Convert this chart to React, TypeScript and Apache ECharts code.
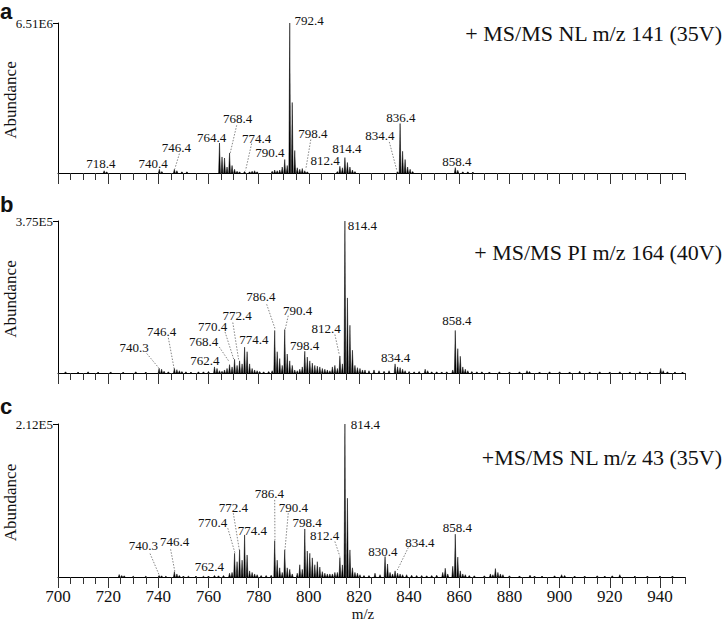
import React, { useEffect, useRef } from "react";
import * as echarts from "echarts";

// ---------- data ----------
const X_MIN = 700;
const X_MAX = 950;
const xTickLabels = [700, 720, 740, 760, 780, 800, 820, 840, 860, 880, 900, 920, 940];
const yMaxLabels = ["6.51E6", "3.75E5", "2.12E5"];
const panelLetters = ["a", "b", "c"];
const panelTitles = [
  "+ MS/MS NL m/z 141 (35V)",
  "+ MS/MS PI m/z 164 (40V)",
  "+MS/MS NL m/z 43 (35V)",
];

// [m/z, relative abundance %]
const peaksA: [number, number][] = [
  [718.4, 1.5], [719.4, 0.8],
  [740.4, 2.5], [741.4, 1],
  [746.4, 2.5], [747.4, 1.5], [749.4, 0.8], [751.4, 0.8],
  [764.4, 20], [765.4, 10.7], [766.4, 10], [767.4, 4], [768.4, 13.3], [769.4, 5], [770.4, 2.5],
  [771.4, 1.2], [772.4, 0.8], [774.4, 1], [776.4, 0.8], [777.4, 1.2], [778.4, 1.5], [779.4, 0.8],
  [785.4, 1.2], [786.4, 2], [787.4, 1.5], [788.4, 2], [789.4, 4], [790.4, 9], [791.4, 5],
  [792.4, 100], [793.4, 47], [794.4, 15], [795.4, 3.5], [796.4, 2.5], [797.4, 3], [798.4, 1.5], [799.4, 0.8],
  [811.4, 1], [812.4, 4.5], [813.4, 3.5], [814.4, 10.3], [815.4, 7], [816.4, 4], [817.4, 2], [818.4, 1],
  [835.4, 0.8], [836.4, 33], [837.4, 14.5], [838.4, 9], [839.4, 4], [840.4, 2.5], [841.4, 1],
  [858.4, 3.6], [859.4, 1.8], [861.4, 0.8], [863.4, 0.8], [865.4, 0.6],
];

const peaksB: [number, number][] = [
  [703, 0.8], [708, 0.6], [712, 0.8], [716, 0.6], [721, 0.7], [726, 0.6], [731, 0.8], [735, 0.6],
  [740.3, 3], [741.3, 2.5], [742.3, 1.2], [744, 0.8],
  [746.4, 3], [747.4, 2.2], [748.4, 1.5], [749.4, 1], [751, 0.8], [753, 0.6], [756, 0.8], [758, 0.8], [760, 1],
  [762.4, 4], [763.4, 3], [764.4, 1.5], [765.4, 1.2], [766.4, 2], [767.4, 3],
  [768.4, 5.5], [769.4, 4], [770.4, 9], [771.4, 5], [772.4, 8], [773.4, 6], [774.4, 17], [775.4, 14],
  [776.4, 6], [777.4, 3], [778.4, 2], [779.4, 1.5], [780.4, 1], [782, 0.8], [784, 1], [785.4, 1.5],
  [786.4, 28], [787.4, 14], [788.4, 9.5], [789.4, 5], [790.4, 28.6], [791.4, 12.5], [792.4, 8], [793.4, 5],
  [794.4, 2], [795.4, 1.5], [796.4, 2.5], [797.4, 4], [798.4, 14.3], [799.4, 10.5], [800.4, 8], [801.4, 6.5],
  [802.4, 5], [803.4, 4.5], [804.4, 4], [805.4, 3], [806.4, 2.5], [807.4, 2], [808.4, 1.5], [809.4, 4],
  [810.4, 5], [811.4, 3], [812.4, 11.2], [813.4, 6], [814.4, 100], [815.4, 49.4], [816.4, 31.4], [817.4, 15],
  [818.4, 5], [819.4, 3.5], [820.4, 3], [821.4, 2], [822.4, 2], [824, 1.5], [826, 2], [828, 1.5], [830, 1.2], [832, 1.5],
  [834.4, 6], [835.4, 4], [836.4, 3.5], [837.4, 2.5], [838.4, 1.5], [840, 1], [842, 0.8], [844, 1],
  [846.4, 2.5], [847.4, 1.5], [849, 0.8], [851, 0.8], [853, 0.7], [855, 0.8],
  [857.4, 2], [858.4, 28], [859.4, 16], [860.4, 11], [861.4, 4], [862.4, 2.5], [863.4, 1.5], [865, 1],
  [867, 0.8], [869, 0.8], [872, 0.7], [876, 0.8], [880, 0.7], [884, 0.8], [887, 1.5], [888, 1],
  [892, 0.7], [896, 0.8], [900, 0.8], [904, 0.7], [908, 1.2], [912, 0.7], [916, 0.8], [920, 0.7],
  [924, 0.8], [928, 0.7], [932, 0.8], [936, 0.7], [940.3, 3], [941.3, 1.5], [943, 0.8], [946, 0.7], [949, 0.6],
];

const peaksC: [number, number][] = [
  [724.4, 1.6], [725.4, 1], [726.4, 0.8], [730, 0.5], [735, 0.5], [740.3, 1], [741.3, 0.8], [743, 0.5],
  [746.4, 3.5], [747.4, 2], [748.4, 1], [750, 0.6], [752, 0.5], [755, 0.6], [758, 0.5], [760, 0.6],
  [762.4, 1], [764, 0.8], [766, 1], [768.4, 2.5], [769.4, 3], [770.4, 15.5], [771.4, 10], [772.4, 17.7],
  [773.4, 11], [774.4, 27.5], [775.4, 14.4], [776.4, 4], [777.4, 3], [778.4, 2], [779.4, 1.5], [781, 1],
  [783, 1], [785, 1.2], [786.4, 23.8], [787.4, 11], [788.4, 6], [789.4, 3], [790.4, 17.7], [791.4, 6],
  [792.4, 5], [793.4, 2], [795.4, 2.5], [796.4, 8], [797.4, 5], [798.4, 31.4], [799.4, 17], [800.4, 15.5],
  [801.4, 12.5], [802.4, 8], [803.4, 10], [804.4, 6.5], [805.4, 3.5], [806.4, 2.5], [807.4, 2], [808.4, 2],
  [809.4, 2], [810.4, 3], [811.4, 3], [812.4, 12.7], [813.4, 7.9], [814.4, 100], [815.4, 51.5], [816.4, 17.7],
  [817.4, 6], [818.4, 3], [819.4, 2.5], [820.4, 1.5], [822, 1], [824, 1], [826.4, 2.5], [828.4, 1.5],
  [830.4, 13.4], [831.4, 8.5], [832.4, 3], [833.4, 2], [834.4, 4], [835.4, 2.5], [836.4, 2], [837.4, 1.5],
  [839, 1.5], [841, 1.2], [843, 1], [845, 1], [847, 0.8], [849, 1], [851, 1.2], [853.4, 3], [854.4, 5.7],
  [855.4, 2], [857.4, 7], [858.4, 28], [859.4, 13], [860.4, 4], [861.4, 2], [862.4, 1.5], [864, 1],
  [866, 0.8], [870, 0.8], [872.4, 2], [873.4, 1.5], [874.4, 5.5], [875.4, 3], [876.4, 2], [877.4, 1.5],
  [880, 0.8], [884, 0.7], [888.2, 1.2], [890, 0.6], [893, 0.6], [898, 0.8], [900.8, 1.5], [902, 1],
  [906, 0.6], [910, 0.6], [915, 0.8], [918, 0.6], [921, 0.8], [924, 1.5], [930, 0.6], [935, 0.6],
  [940, 0.6], [945, 0.6],
];

// annotation: text, label centre (m/z, %), optional leader line (m/z1, %1, m/z2, %2)
type Ann = { t: string; lx: number; ly: number; line?: [number, number, number, number] };

const annA: Ann[] = [
  { t: "718.4", lx: 717.1, ly: 6.3 },
  { t: "740.4", lx: 737.9, ly: 6.3 },
  { t: "746.4", lx: 747.2, ly: 17.3, line: [748.4, 12.9, 746.6, 2.9] },
  { t: "764.4", lx: 761.3, ly: 23.6 },
  { t: "768.4", lx: 771.6, ly: 36.3, line: [771.25, 31.8, 768.6, 12.9] },
  { t: "774.4", lx: 779.2, ly: 23.3, line: [777.2, 19.6, 774.8, 1.8] },
  { t: "790.4", lx: 784.5, ly: 14 },
  { t: "792.4", lx: 800.1, ly: 101.8 },
  { t: "798.4", lx: 801.6, ly: 26.3, line: [800.8, 22.3, 798.8, 2.5] },
  { t: "812.4", lx: 806.5, ly: 8.5 },
  { t: "814.4", lx: 815.2, ly: 16.2 },
  { t: "834.4", lx: 828.3, ly: 24.7, line: [832.1, 20.7, 835.2, 1.1] },
  { t: "836.4", lx: 836.7, ly: 37.3 },
  { t: "858.4", lx: 859.0, ly: 8 },
];

const annB: Ann[] = [
  { t: "740.3", lx: 730.4, ly: 17.1, line: [735.4, 12.8, 740.4, 2.9] },
  { t: "746.4", lx: 741.3, ly: 27.0, line: [744.0, 23.1, 746.3, 2.9] },
  { t: "762.4", lx: 758.6, ly: 8.4 },
  { t: "768.4", lx: 758.1, ly: 20.4, line: [764.3, 17.1, 768.3, 7.3] },
  { t: "770.4", lx: 761.7, ly: 30.8, line: [766.6, 27.0, 770.2, 8.4] },
  { t: "772.4", lx: 771.4, ly: 37.8, line: [769.7, 33.2, 772.0, 9.0] },
  { t: "774.4", lx: 778.1, ly: 22.3 },
  { t: "786.4", lx: 780.9, ly: 50.1, line: [783.2, 45.2, 786.5, 29.3] },
  { t: "790.4", lx: 795.5, ly: 41.4, line: [791.8, 37.7, 790.5, 28.1] },
  { t: "798.4", lx: 798.3, ly: 17.8 },
  { t: "812.4", lx: 806.9, ly: 29.3, line: [810.4, 25.3, 812.2, 11.7] },
  { t: "814.4", lx: 821.4, ly: 97.2 },
  { t: "834.4", lx: 834.6, ly: 10.5 },
  { t: "858.4", lx: 859.0, ly: 34.7 },
];

const annC: Ann[] = [
  { t: "740.3", lx: 734.0, ly: 20.3, line: [736.7, 15.3, 740.4, 1.1] },
  { t: "746.4", lx: 746.5, ly: 23.2, line: [744.9, 18.1, 746.6, 3.5] },
  { t: "762.4", lx: 760.4, ly: 6.8 },
  { t: "770.4", lx: 761.7, ly: 35.6, line: [767.7, 31.9, 770.6, 15.5] },
  { t: "772.4", lx: 769.9, ly: 45.4, line: [769.9, 41.7, 772.3, 17.7] },
  { t: "774.4", lx: 777.5, ly: 30.4 },
  { t: "786.4", lx: 784.3, ly: 54.8, line: [786.4, 50.4, 786.5, 24.2] },
  { t: "790.4", lx: 793.8, ly: 45.4, line: [791.8, 41.7, 790.5, 17.7] },
  { t: "798.4", lx: 799.3, ly: 35.6 },
  { t: "812.4", lx: 806.3, ly: 27.1, line: [810.4, 23.2, 812.4, 13.4] },
  { t: "814.4", lx: 822.6, ly: 99.6 },
  { t: "830.4", lx: 829.5, ly: 16.6 },
  { t: "834.4", lx: 844.3, ly: 22.7, line: [839.7, 19.3, 835.3, 4.6] },
  { t: "858.4", lx: 859.2, ly: 32.4 },
];

// ---------- layout ----------
const SERIF = "Liberation Serif";
const SANS = "Liberation Sans";
const grids = [
  { left: 58, width: 627, top: 23, height: 150 },
  { left: 58, width: 627, top: 221, height: 152 },
  { left: 58, width: 627, top: 424, height: 153 },
];
const titleY = [33, 252, 457];
const letterY = [11, 204, 406];
const peakHalfWidth = 0.35;

const panelPeaks = [peaksA, peaksB, peaksC];
const panelAnn = [annA, annB, annC];

export default function App() {
  const ref = useRef<HTMLDivElement>(null);

  useEffect(() => {
    if (!ref.current) return;
    const chart = echarts.init(ref.current, undefined, { renderer: "svg" });

    const xAxes: any[] = [];
    const yAxes: any[] = [];
    const series: any[] = [];

    grids.forEach((g, i) => {
      const isLast = i === grids.length - 1;
      xAxes.push({
        type: "value",
        gridIndex: i,
        position: "bottom",
        min: X_MIN,
        max: X_MAX,
        interval: 5,
        axisLine: { show: true, onZero: false, lineStyle: { color: "#000", width: 1 } },
        axisTick: { show: true, length: 7, lineStyle: { color: "#333", width: 1 } },
        axisLabel: { show: false },
        splitLine: { show: false },
      });
      xAxes.push({
        type: "value",
        gridIndex: i,
        position: "bottom",
        min: X_MIN,
        max: X_MAX,
        axisLine: { show: false },
        axisTick: {
          show: true,
          length: 11,
          customValues: xTickLabels,
          lineStyle: { color: "#333", width: 1 },
        },
        axisLabel: {
          show: isLast,
          customValues: xTickLabels,
          margin: 11,
          fontSize: 17,
          fontFamily: SERIF,
          color: "#111",
        },
        splitLine: { show: false },
      });
      yAxes.push({
        type: "value",
        gridIndex: i,
        min: 0,
        max: 100,
        axisLine: { show: true, lineStyle: { color: "#000", width: 1 } },
        axisTick: { show: true, length: 5, customValues: [100], lineStyle: { color: "#000" } },
        axisLabel: {
          show: true,
          customValues: [100],
          formatter: () => yMaxLabels[i],
          fontSize: 13,
          fontFamily: SERIF,
          color: "#111",
          margin: 5,
        },
        splitLine: { show: false },
      });
      series.push({
        type: "custom",
        xAxisIndex: 2 * i,
        yAxisIndex: i,
        data: panelPeaks[i],
        encode: { x: 0, y: 1 },
        renderItem: (_p: any, api: any) => {
          const x = api.value(0);
          const h = api.value(1);
          const p0 = api.coord([x - peakHalfWidth, 0]);
          const p1 = api.coord([x, h]);
          const p2 = api.coord([x + peakHalfWidth, 0]);
          return {
            type: "polygon",
            shape: { points: [p0, p1, p2] },
            style: { fill: "#000", stroke: "#000", lineWidth: 0.5 },
          };
        },
      });
    });

    chart.setOption({
      animation: false,
      backgroundColor: "#fff",
      textStyle: { fontFamily: SERIF },
      grid: grids.map((g) => ({ ...g, containLabel: false })),
      xAxis: xAxes,
      yAxis: yAxes,
      series,
    });

    const els: any[] = [];
    const txt = (
      x: number,
      y: number,
      text: string,
      size: number,
      family: string,
      align: string,
      extra: any = {},
      weight: string = "normal"
    ) => ({
      type: "text",
      x,
      y,
      silent: true,
      ...extra,
      style: {
        text,
        fontSize: size,
        fontFamily: family,
        fontWeight: weight,
        fill: "#111",
        align,
        textAlign: align,
        verticalAlign: "middle",
        textVerticalAlign: "middle",
      },
    });

    grids.forEach((g, i) => {
      const conv = (x: number, y: number) =>
        chart.convertToPixel({ xAxisIndex: 2 * i, yAxisIndex: i } as any, [x, y]) as number[];
      panelAnn[i].forEach((a) => {
        const [px, py] = conv(a.lx, a.ly);
        els.push(txt(px, py, a.t, 13, SERIF, "center"));
        if (a.line) {
          const [x1, y1] = conv(a.line[0], a.line[1]);
          const [x2, y2] = conv(a.line[2], a.line[3]);
          els.push({
            type: "line",
            silent: true,
            shape: { x1, y1, x2, y2 },
            style: { stroke: "#666", lineWidth: 0.8, lineDash: [1.5, 1.5] },
          });
        }
      });
      els.push(txt(722, titleY[i], panelTitles[i], 22, SERIF, "right"));
      els.push(txt(0, letterY[i], panelLetters[i], 22, SANS, "left", {}, "bold"));
      els.push(
        txt(10, g.top + g.height / 2 + 2, "Abundance", 17, SERIF, "center", { rotation: Math.PI / 2 })
      );
    });
    els.push(txt(363, 614, "m/z", 15, SERIF, "center"));

    chart.setOption({ graphic: { elements: els } });

    return () => chart.dispose();
  }, []);

  return (
    <div
      ref={ref}
      style={{ position: "absolute", left: 0, top: 0, width: 724, height: 622, background: "#fff" }}
    />
  );
}
